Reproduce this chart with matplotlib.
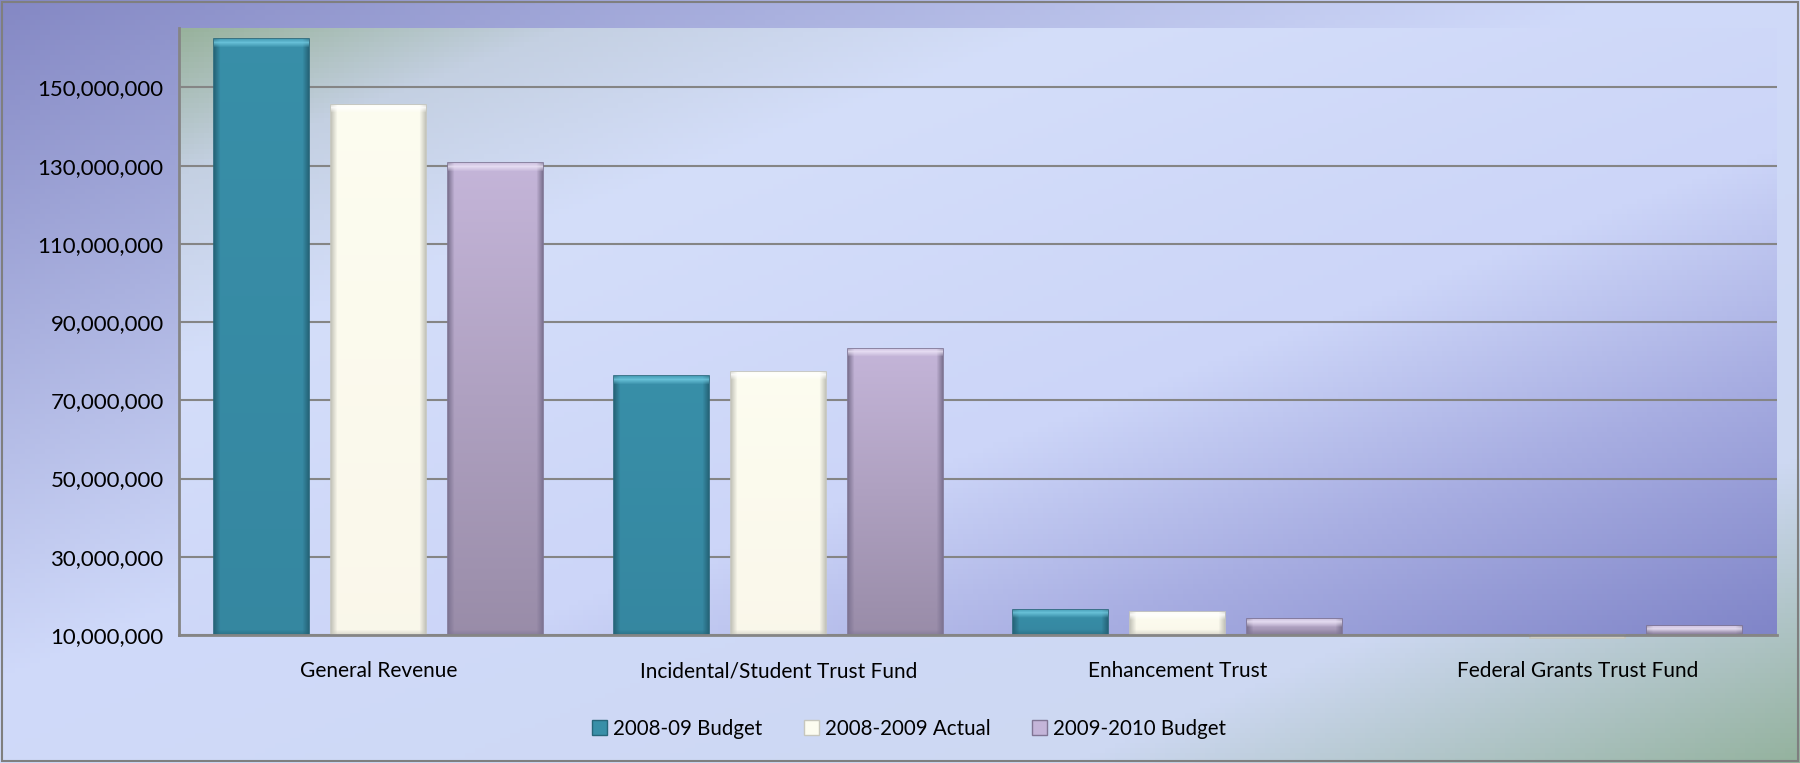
import numpy as np
import matplotlib.pyplot as plt
from matplotlib.patches import Rectangle, Patch
from matplotlib.ticker import FuncFormatter

plt.rcParams['font.family'] = ['Lato', 'DejaVu Sans']

# data
categories = ['General Revenue', 'Incidental/Student Trust Fund',
              'Enhancement Trust', 'Federal Grants Trust Fund']
series_names = ['2008-09 Budget', '2008-2009 Actual', '2009-2010 Budget']
budget_0809 = [162.3e6, 76.2e6, 16.5e6, np.nan]
actual_0809 = [145.6e6, 77.3e6, 15.9e6, 9.2e6]
budget_0910 = [130.6e6, 83.2e6, 14.1e6, 12.4e6]
y_ticks = [10e6, 30e6, 50e6, 70e6, 90e6, 110e6, 130e6, 150e6]
y_min, y_max = 10e6, 165.3e6

# bar looks: (top colour, bottom colour, edge colour, highlight)
looks = [
    ((0.22, 0.56, 0.66), (0.21, 0.53, 0.63), (0.15, 0.40, 0.48), (0.45, 0.80, 0.89)),
    ((0.99, 0.99, 0.94), (0.98, 0.97, 0.92), (0.78, 0.78, 0.74), (1.0, 1.0, 1.0)),
    ((0.77, 0.71, 0.85), (0.60, 0.55, 0.66), (0.50, 0.46, 0.58), (0.93, 0.90, 0.97)),
]


def diag_gradient(w, h, stops, cols):
    xn = np.linspace(0, 1, w)[None, :]
    yn = np.linspace(0, 1, h)[:, None]
    t = (xn + yn) / 2
    cols = np.array(cols) / 255.0
    img = np.zeros((h, w, 3))
    for c in range(3):
        img[..., c] = np.interp(t, stops, cols[:, c])
    return img


fig = plt.figure(figsize=(18, 7.63), dpi=100)

# figure background
bg = fig.add_axes([0, 0, 1, 1], zorder=-10)
bg.imshow(diag_gradient(360, 153, [0, 0.45, 0.8, 1.0],
                        [(132, 136, 196), (208, 218, 250), (205, 216, 242), (148, 178, 158)]),
          aspect='auto', extent=(0, 1, 0, 1))
bg.set_axis_off()
fig.add_artist(Rectangle((0.001, 0.002), 0.998, 0.996, transform=fig.transFigure,
                         fill=False, edgecolor='#7f7f7f', linewidth=1.5))

ax = fig.add_axes([179 / 1800, 1 - 635 / 763, 1598 / 1800, (635 - 27.6) / 763])
ax.patch.set_visible(False)
ax.imshow(diag_gradient(320, 120, [0, 0.12, 0.28, 0.6, 0.78, 1.0],
                        [(152, 178, 156), (196, 208, 226), (212, 222, 250),
                         (204, 213, 248), (168, 174, 226), (128, 133, 200)]),
          aspect='auto', extent=(0, 1, 0, 1), transform=ax.transAxes, zorder=0)

x = np.arange(len(categories))
width = 0.2375
offset = 0.2925
ax.set_xlim(-0.5, 3.5)
ax.set_ylim(y_min, y_max)

all_series = [budget_0809, actual_0809, budget_0910]
for i, vals in enumerate(all_series):
    top, bot, edge, hi = looks[i]
    vals = np.array(vals, dtype=float)
    bars = ax.bar(x + (i - 1) * offset, vals - y_min, width, bottom=y_min,
                  color=bot, edgecolor=edge, linewidth=1.2, zorder=3, clip_on=False)
    for b, v in zip(bars, vals):
        if np.isnan(v) or v <= y_min:
            continue
        bx, by, bw, bh = b.get_x(), b.get_y(), b.get_width(), b.get_height()
        p0 = ax.transData.transform((bx, by))
        p1 = ax.transData.transform((bx + bw, by + bh))
        wpx, hpx = int(p1[0] - p0[0]), max(int(p1[1] - p0[1]), 3)
        t = np.linspace(0, 1, hpx)[:, None, None]
        img = (1 - t) * np.array(top) + t * np.array(bot)
        img = np.repeat(img, wpx, axis=1)
        # darker sides
        u = np.arange(wpx)
        side = np.clip(np.minimum(u, wpx - 1 - u) / 6.0, 0, 1)[None, :, None]
        img = img * side + np.array(edge) * (1 - side)
        # bevel highlight at top
        r = np.arange(hpx)
        hl = np.clip(1 - np.abs(r - 3) / 5.0, 0, 1)[:, None, None] * 0.8
        img = img * (1 - hl) + np.array(hi) * hl
        # darker bottom strip
        bs = np.clip(1 - (hpx - 1 - r) / 5.0, 0, 1)[:, None, None] * 0.6
        img = img * (1 - bs) + np.array(edge) * bs
        im = ax.imshow(img, extent=(bx, bx + bw, by, by + bh), aspect='auto',
                       origin='upper', zorder=4, interpolation='bilinear')
        im.set_clip_path(b)

ax.set_yticks(y_ticks)
ax.yaxis.set_major_formatter(FuncFormatter(lambda v, p: f'{v:,.0f}'))
ax.yaxis.grid(True, color='#858585', linewidth=1.5, zorder=1)
ax.set_axisbelow(True)
ax.set_xticks(x)
ax.set_xticklabels(categories)
ax.tick_params(axis='both', length=0, colors='black')
ax.tick_params(axis='x', pad=19, labelsize=15)
ax.tick_params(axis='y', pad=11, labelsize=16)
for s in ['top', 'right']:
    ax.spines[s].set_visible(False)
for s in ['left', 'bottom']:
    ax.spines[s].set_color('#858585')
    ax.spines[s].set_linewidth(2)
    ax.spines[s].set_zorder(5)

handles = [Patch(facecolor=looks[i][0], edgecolor=looks[i][2], label=series_names[i])
           for i in range(3)]
fig.legend(handles=handles, loc='center', bbox_to_anchor=(0.505, 1 - 729 / 763), ncol=3,
           frameon=False, fontsize=14.8, handlelength=0.75, handleheight=0.75,
           handletextpad=0.3, columnspacing=2.0)

fig.savefig('out.png', dpi=100)
